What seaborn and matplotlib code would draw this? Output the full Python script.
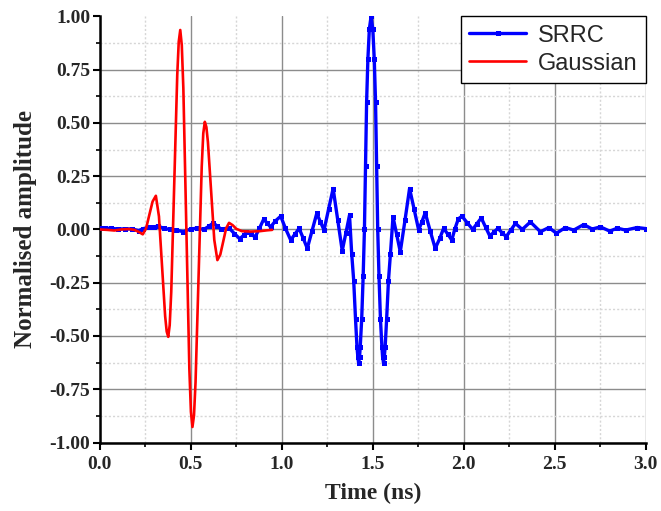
import numpy as np
import pandas as pd
import matplotlib
matplotlib.use("Agg")
import matplotlib.pyplot as plt
from matplotlib.ticker import MultipleLocator, FormatStrFormatter
import seaborn as sns

# ---- data ----
gauss_t = [0.0, 0.04, 0.08, 0.12, 0.16, 0.19, 0.215, 0.236,
           0.254, 0.272, 0.290, 0.308,
           0.325, 0.342, 0.359, 0.3675, 0.376,
           0.384, 0.3925, 0.409, 0.4255, 0.4337, 0.442,
           0.4504, 0.459, 0.4755, 0.492, 0.5006, 0.509,
           0.5175, 0.526, 0.543, 0.560, 0.5685, 0.577,
           0.5856, 0.594, 0.6115, 0.629, 0.646,
           0.662, 0.678, 0.694, 0.710,
           0.73, 0.75, 0.78, 0.83, 0.88, 0.92, 0.947]
gauss_v = [0.0, -0.002, -0.005, 0.0, 0.002, -0.002, -0.012, -0.023,
           0.004, 0.068, 0.131, 0.158,
           0.061, -0.173, -0.407, -0.479, -0.504,
           -0.449, -0.293, 0.216, 0.725, 0.881, 0.936,
           0.865, 0.663, 0.005, -0.654, -0.856, -0.927,
           -0.873, -0.717, -0.211, 0.295, 0.451, 0.505,
           0.480, 0.410, 0.181, -0.049, -0.144,
           -0.118, -0.057, 0.005, 0.031,
           0.020, 0.003, -0.008, -0.010, -0.008, -0.004, -0.002]

srrc_t = [0.0, 0.03, 0.064, 0.10, 0.14, 0.177, 0.214, 0.24, 0.27, 0.30, 0.318,
          0.35, 0.383, 0.42, 0.459, 0.50, 0.534, 0.571, 0.60, 0.624, 0.645,
          0.665, 0.712, 0.74, 0.769, 0.79, 0.806, 0.83, 0.853, 0.877, 0.900,
          0.92, 0.938, 0.965, 0.994,
          1.02, 1.049, 1.072, 1.095, 1.118, 1.140, 1.166, 1.192, 1.212, 1.232,
          1.257, 1.282, 1.307, 1.332, 1.352, 1.372,
          1.384, 1.395, 1.405, 1.413, 1.418, 1.422, 1.427, 1.431, 1.439, 1.447,
          1.454, 1.460, 1.466, 1.473, 1.481, 1.4905, 1.500, 1.508, 1.515, 1.521,
          1.527, 1.534, 1.542, 1.550, 1.554, 1.559, 1.563, 1.568, 1.576, 1.586,
          1.597,
          1.611, 1.631, 1.651, 1.677, 1.702, 1.727, 1.752, 1.770, 1.788,
          1.815, 1.843, 1.868, 1.889, 1.912, 1.934, 1.95, 1.97, 1.99,
          2.02, 2.049, 2.072, 2.096, 2.12, 2.143, 2.165, 2.187, 2.21, 2.233,
          2.258, 2.284, 2.321, 2.366, 2.421, 2.467, 2.509, 2.558, 2.604,
          2.659, 2.705, 2.751, 2.802, 2.843, 2.889, 2.953, 3.0]
srrc_v = [0.005, 0.006, 0.005, 0.002, 0.003, 0.002, -0.005, 0.004, 0.010, 0.012, 0.016,
          0.006, 0.0, -0.004, -0.010, 0.002, 0.006, 0.0, 0.015, 0.031, 0.015,
          0.003, 0.005, -0.020, -0.044, -0.028, -0.013, -0.020, -0.036, 0.005, 0.047,
          0.030, 0.011, 0.040, 0.062,
          0.005, -0.050, -0.022, 0.005, -0.042, -0.089, -0.007, 0.075, 0.036, -0.003,
          0.095, 0.192, 0.046, -0.100, -0.017, 0.067,
          -0.113, -0.24, -0.42, -0.55, -0.60, -0.626, -0.60, -0.55, -0.42, -0.22,
          0.0, 0.30, 0.60, 0.80, 0.94, 1.0, 0.94, 0.80, 0.60, 0.30,
          0.0, -0.22, -0.42, -0.55, -0.60, -0.626, -0.60, -0.55, -0.42, -0.24,
          -0.113,
          0.059, -0.023, -0.105, 0.044, 0.192, 0.095, -0.003, 0.037, 0.078,
          -0.006, -0.089, -0.042, 0.005, -0.022, -0.050, 0.0, 0.050, 0.062,
          0.030, 0.0, 0.027, 0.054, 0.010, -0.031, -0.013, 0.005, -0.015, -0.034,
          -0.003, 0.028, 0.0, 0.035, -0.011, 0.009, -0.018, 0.009, -0.003,
          0.023, 0.002, 0.012, -0.008, 0.006, -0.003, 0.009, 0.004]

x_ticks = [0.0, 0.5, 1.0, 1.5, 2.0, 2.5, 3.0]
y_ticks = [-1.0, -0.75, -0.5, -0.25, 0.0, 0.25, 0.5, 0.75, 1.0]

srrc_df = pd.DataFrame({"t": srrc_t, "v": srrc_v})
gauss_df = pd.DataFrame({"t": gauss_t, "v": gauss_v})

sns.set_style("white")
plt.rcParams["font.family"] = ["Liberation Serif", "DejaVu Serif"]

fig = plt.figure(figsize=(6.61, 5.11), dpi=100)
ax = fig.add_axes([0.151, 0.134, 0.826, 0.834])

sns.lineplot(data=srrc_df, x="t", y="v", ax=ax, color="#0000ff", lw=2.4,
             marker="s", markersize=3.6, markeredgewidth=0, sort=False,
             estimator=None, label="SRRC", zorder=3)
sns.lineplot(data=gauss_df, x="t", y="v", ax=ax, color="#ff0000", lw=1.9,
             sort=False, estimator=None, label="Gaussian", zorder=4)

ax.set_xlim(0, 3.0)
ax.set_ylim(-1.0, 1.0)
ax.set_xticks(x_ticks)
ax.set_yticks(y_ticks)
ax.xaxis.set_major_formatter(FormatStrFormatter("%.1f"))
ax.yaxis.set_major_formatter(FormatStrFormatter("%.2f"))
ax.xaxis.set_minor_locator(MultipleLocator(0.25))
ax.yaxis.set_minor_locator(MultipleLocator(0.125))

ax.grid(True, which="major", color="#8c8c8c", lw=1.0, ls="-", zorder=0)
ax.grid(True, which="minor", color="#d6d6d6", lw=1.0, ls=(0, (1.5, 1.5)), zorder=0)
ax.set_axisbelow(True)

for s in ["top", "right"]:
    ax.spines[s].set_visible(False)
for s in ["left", "bottom"]:
    ax.spines[s].set_color("black")
    ax.spines[s].set_linewidth(1.8)

ax.tick_params(which="major", direction="out", length=5, width=1.5, color="black",
               labelsize=14, pad=2, bottom=True, left=True)
ax.tick_params(axis="x", which="major", pad=5)
ax.tick_params(which="minor", direction="out", length=3, width=1.2, color="black",
               bottom=True, left=True)
for lab in ax.get_xticklabels() + ax.get_yticklabels():
    lab.set_fontweight("bold")

# no grid line along the top edge
ax.yaxis.get_major_ticks()[-1].gridline.set_visible(False)

ax.set_xlabel("Time (ns)", fontsize=17, fontweight="bold", labelpad=7)
ax.set_ylabel("Normalised amplitude", fontsize=18, fontweight="bold", labelpad=9)

leg = ax.legend(loc="upper right", bbox_to_anchor=(1.0, 1.0), frameon=True,
                fancybox=False, edgecolor="black", framealpha=1,
                prop={"family": "Liberation Sans", "size": 17},
                handlelength=2.4, borderpad=0.35, labelspacing=0.25,
                handletextpad=0.5, borderaxespad=0.0)
leg.get_frame().set_linewidth(1.0)

fig.savefig("out.png", dpi=100)
